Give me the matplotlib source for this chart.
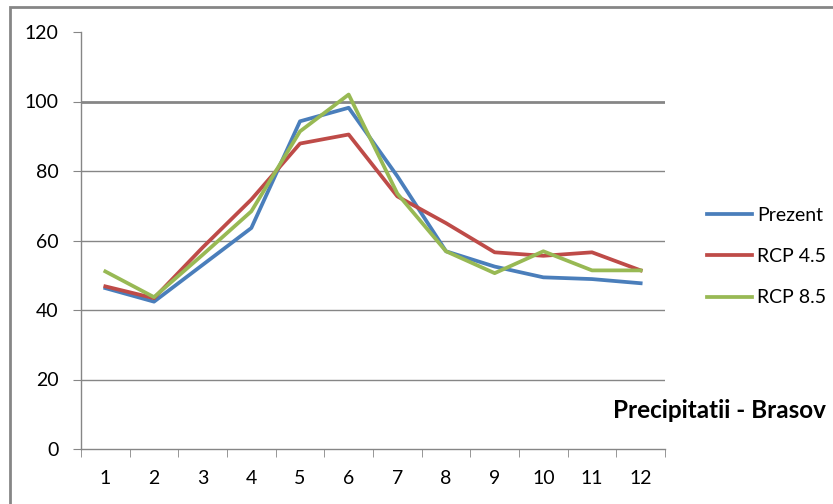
import matplotlib
matplotlib.use("Agg")
import matplotlib.pyplot as plt
from matplotlib.patches import Rectangle
import numpy as np

# --- Data ---
luni = [1, 2, 3, 4, 5, 6, 7, 8, 9, 10, 11, 12]
prezent = [46.3, 42.4, 53.0, 63.6, 94.3, 98.2, 78.5, 56.9, 52.5, 49.4, 48.9, 47.7]
rcp45 = [46.8, 43.4, 58.0, 71.8, 87.9, 90.5, 72.7, 65.0, 56.6, 55.6, 56.6, 51.4]
rcp85 = [51.1, 43.7, 55.9, 68.4, 91.4, 102.0, 73.5, 56.9, 50.6, 56.9, 51.4, 51.4]
y_ticks = [0, 20, 40, 60, 80, 100, 120]

plt.rcParams['font.family'] = ['Lato', 'DejaVu Sans']
gri = '#868686'

fig = plt.figure(figsize=(8.33, 5.04), dpi=100)
ax = fig.add_axes([81 / 833, 55 / 504, 584 / 833, 417 / 504])

# --- Rama exterioara ---
fig.patches.append(Rectangle((10 / 833, -0.1), 1.2, (504 - 7) / 504 + 0.1,
                             transform=fig.transFigure, fill=False,
                             edgecolor=gri, lw=2, clip_on=False))

# --- Linii de grila ---
for v in y_ticks[1:-1]:
    ax.axhline(v, color=gri, lw=2 if v == 100 else 1, zorder=1)

ax.plot(luni, prezent, color='#4A7EBB', lw=2.7, label='Prezent', zorder=3)
ax.plot(luni, rcp45, color='#BE4B48', lw=2.7, label='RCP 4.5', zorder=3)
ax.plot(luni, rcp85, color='#98B954', lw=2.7, label='RCP 8.5', zorder=4)

ax.set_xlim(0.5, 12.5)
ax.set_ylim(0, 120)
ax.set_xticks(luni)
ax.set_xticklabels([str(m) for m in luni])
ax.set_xticks(np.arange(0.5, 13, 1), minor=True)
ax.set_yticks(y_ticks)

for s in ['top', 'right']:
    ax.spines[s].set_visible(False)
for s in ['left', 'bottom']:
    ax.spines[s].set_color(gri)
    ax.spines[s].set_linewidth(1)

ax.tick_params(axis='x', which='major', length=0, pad=15, labelsize=14, colors='black')
ax.tick_params(axis='x', which='minor', length=6, color=gri, direction='out')
ax.tick_params(axis='y', length=6, color=gri, pad=10, labelsize=14)

ax.legend(loc='upper left', bbox_to_anchor=(699 / 833, 1 - 199 / 504), bbox_transform=fig.transFigure,
          frameon=False, fontsize=14, handlelength=2.3, handletextpad=0.3, labelspacing=1.25,
          borderaxespad=0)

fig.text(826 / 833, 1 - 411 / 504, 'Precipitatii - Brasov', ha='right', va='center',
         fontsize=17.5, fontweight='bold')

fig.savefig('out.png', dpi=100)
